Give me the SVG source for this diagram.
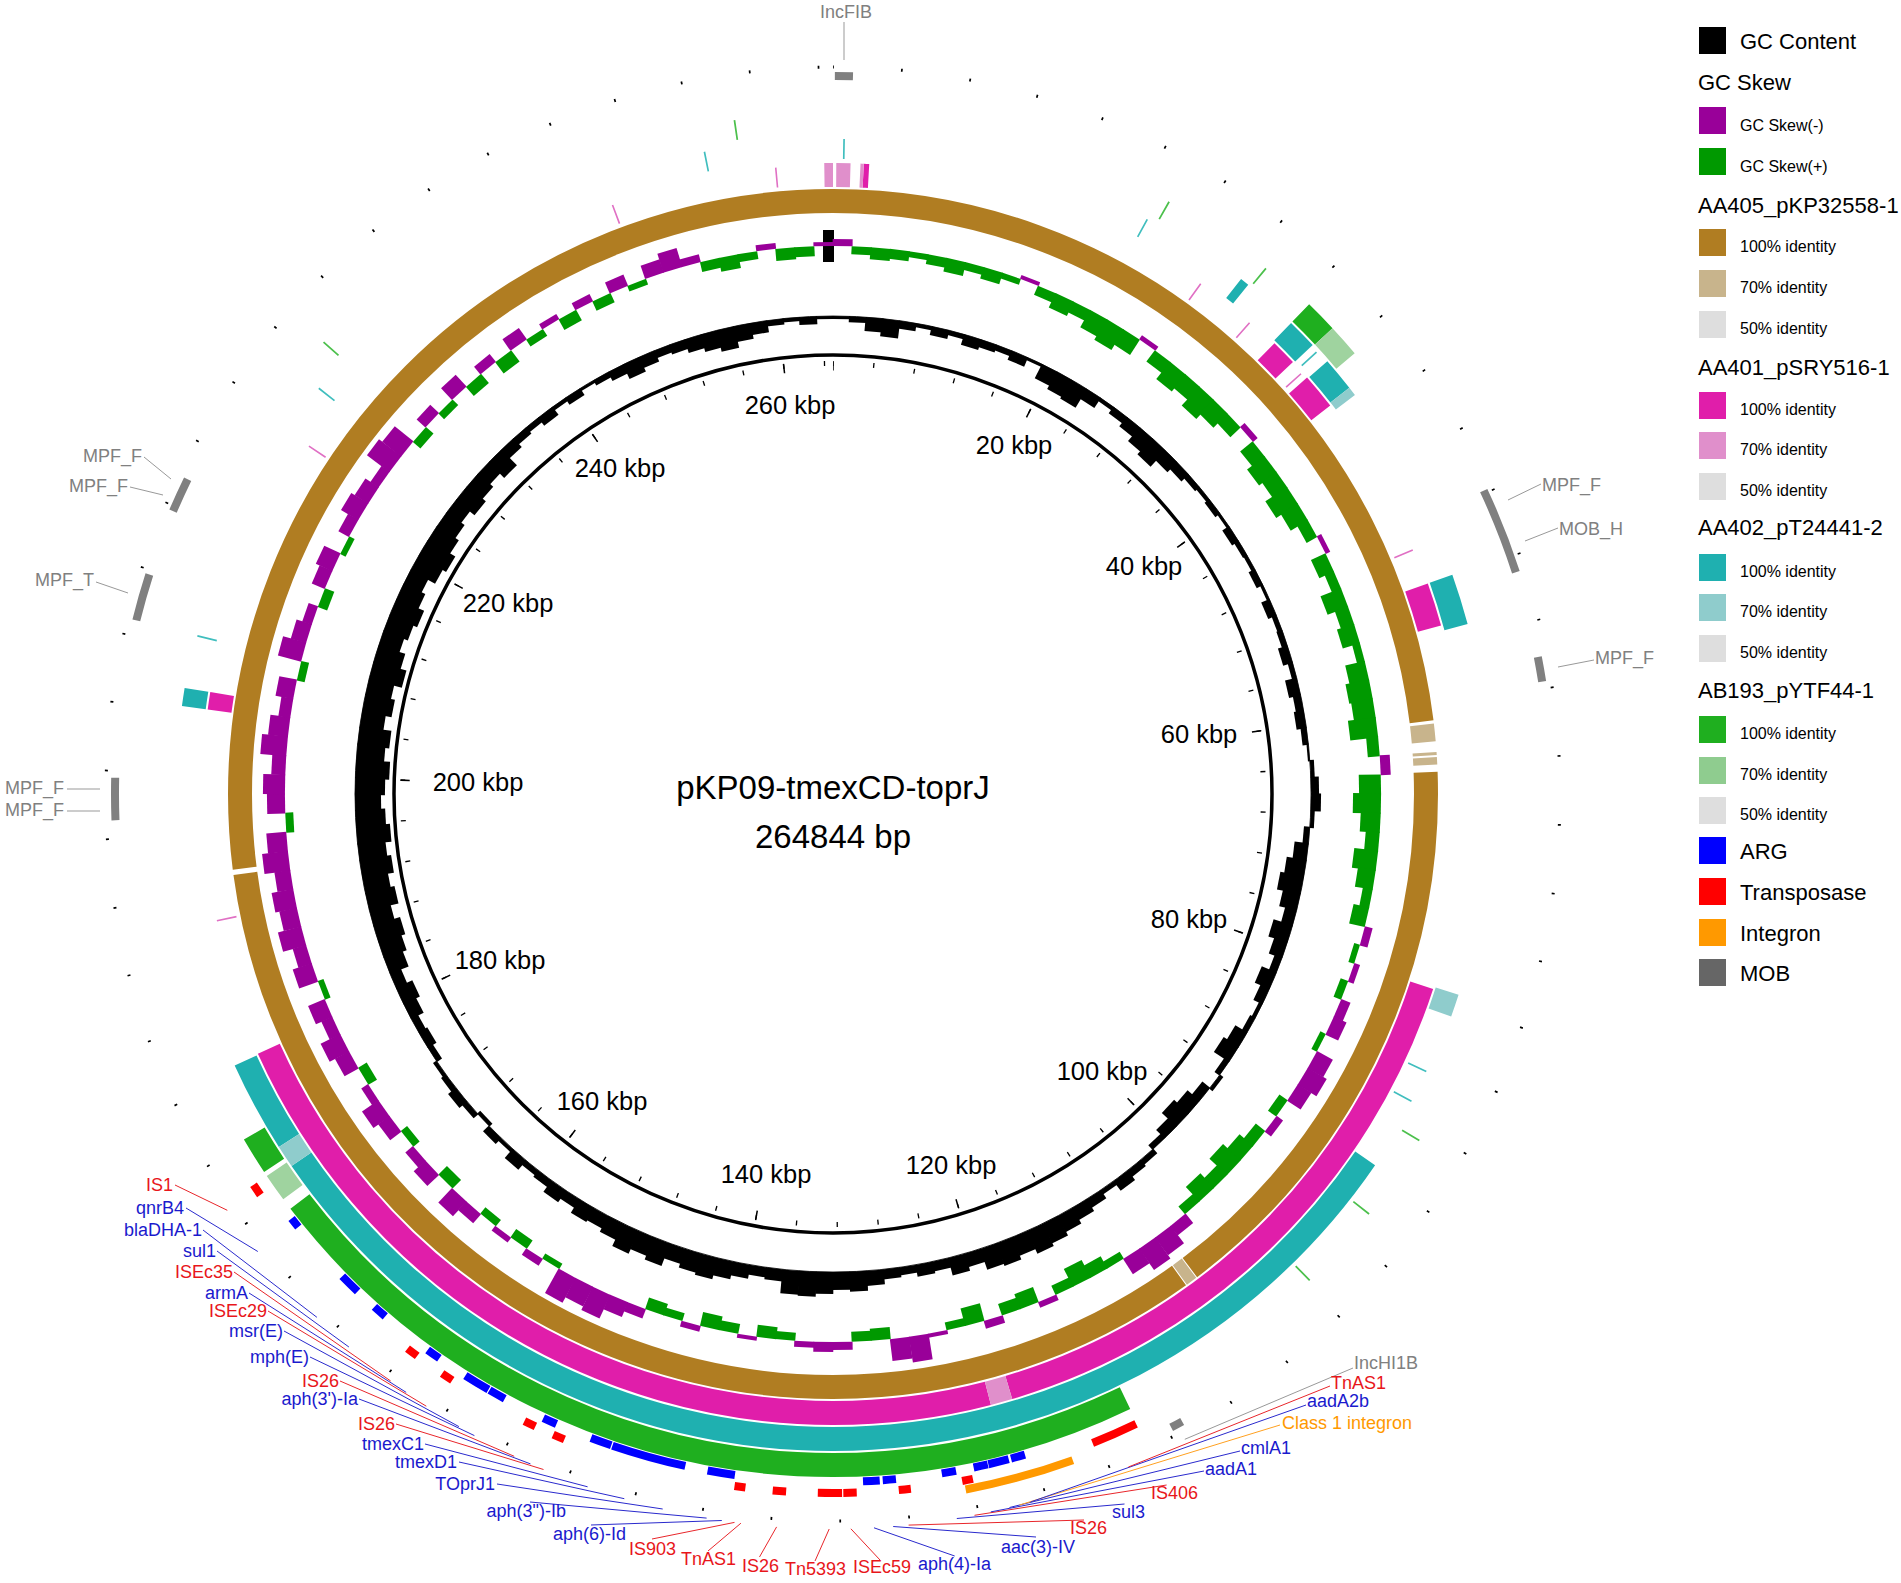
<svg xmlns="http://www.w3.org/2000/svg" width="1901" height="1583" viewBox="0 0 1901 1583">
<style>
text{font-family:"Liberation Sans",Arial,sans-serif}
.gi{x:-9px;y:-478px;width:18px}
.go{x:-9px;width:18px}
.sg{x:-10px;y:-548px;width:20px;fill:#009900}
.sp{x:-10px;width:20px;fill:#990099}
.lg{font-size:22px;fill:#000}
.ls{font-size:16px;fill:#000}
.tk{font-size:25.5px;fill:#000;text-anchor:middle}
.fl{font-size:18px}
.mb{font-size:18px;fill:#808080}
.red{fill:#E8161B}
.blue{fill:#1A1ACD}
.gray{fill:#808080}
.org{fill:#FF9900}
.lr{stroke:#E8262B;stroke-width:1}
.lb{stroke:#2A2ACD;stroke-width:1}
.lgy{stroke:#999;stroke-width:1}
.lo{stroke:#FFA020;stroke-width:1}
</style>
<rect width="1901" height="1583" fill="#fff"/>

<g id="map">
<g id="gc-content" transform="translate(833 794)" fill="#000">
<circle r="478" fill="none" stroke="#000" stroke-width="0.8"/>
<rect class="gi" height="3" transform="rotate(1)"/><rect class="gi" height="6" transform="rotate(3)"/><rect class="gi" height="14" transform="rotate(5)"/><rect class="gi" height="18" transform="rotate(7)"/><rect class="gi" height="8" transform="rotate(9)"/>
<rect class="gi" height="4" transform="rotate(11)"/><rect class="gi" height="9" transform="rotate(13)"/><rect class="gi" height="5" transform="rotate(15)"/><rect class="gi" height="11" transform="rotate(17)"/><rect class="gi" height="8" transform="rotate(19)"/>
<rect class="gi" height="6" transform="rotate(21)"/><rect class="gi" height="10" transform="rotate(23)"/><rect class="gi" height="3" transform="rotate(25)"/><rect class="gi" height="16" transform="rotate(27)"/><rect class="gi" height="20" transform="rotate(29)"/>
<rect class="gi" height="22" transform="rotate(31)"/><rect class="gi" height="12" transform="rotate(33)"/><rect class="gi" height="4" transform="rotate(35)"/><rect class="gi" height="8" transform="rotate(37)"/><rect class="gi" height="12" transform="rotate(39)"/>
<rect class="gi" height="18" transform="rotate(41)"/><rect class="gi" height="22" transform="rotate(43)"/><rect class="gi" height="14" transform="rotate(45)"/><rect class="gi" height="10" transform="rotate(47)"/><rect class="gi" height="6" transform="rotate(49)"/>
<rect class="gi" height="4" transform="rotate(51)"/><rect class="gi" height="6" transform="rotate(53)"/><rect class="gi" height="3" transform="rotate(55)"/><rect class="gi" height="8" transform="rotate(57)"/><rect class="gi" height="5" transform="rotate(59)"/>
<rect class="gi" height="4" transform="rotate(61)"/><rect class="gi" height="7" transform="rotate(63)"/><rect class="gi" height="3" transform="rotate(65)"/><rect class="gi" height="9" transform="rotate(67)"/><rect class="gi" height="5" transform="rotate(69)"/>
<rect class="gi" height="6" transform="rotate(71)"/><rect class="gi" height="10" transform="rotate(73)"/><rect class="gi" height="5" transform="rotate(75)"/><rect class="gi" height="12" transform="rotate(77)"/><rect class="gi" height="8" transform="rotate(79)"/>
<rect class="gi" height="10" transform="rotate(81)"/><rect class="gi" height="6" transform="rotate(83)"/><rect class="gi" height="2" transform="rotate(85)"/><rect class="go" y="-482" height="4" transform="rotate(87)"/><rect class="go" y="-486" height="8" transform="rotate(89)"/>
<rect class="go" y="-488" height="10" transform="rotate(91)"/><rect class="go" y="-482" height="4" transform="rotate(93)"/><rect class="gi" height="6" transform="rotate(95)"/><rect class="gi" height="14" transform="rotate(97)"/><rect class="gi" height="20" transform="rotate(99)"/>
<rect class="gi" height="24" transform="rotate(101)"/><rect class="gi" height="18" transform="rotate(103)"/><rect class="gi" height="12" transform="rotate(105)"/><rect class="gi" height="20" transform="rotate(107)"/><rect class="gi" height="14" transform="rotate(109)"/>
<rect class="gi" height="8" transform="rotate(111)"/><rect class="gi" height="16" transform="rotate(113)"/><rect class="gi" height="10" transform="rotate(115)"/><rect class="gi" height="4" transform="rotate(117)"/><rect class="gi" height="6" transform="rotate(119)"/>
<rect class="gi" height="14" transform="rotate(121)"/><rect class="gi" height="18" transform="rotate(123)"/><rect class="gi" height="6" transform="rotate(125)"/><rect class="go" y="-482" height="4" transform="rotate(127)"/><rect class="gi" height="10" transform="rotate(129)"/>
<rect class="gi" height="16" transform="rotate(131)"/><rect class="gi" height="20" transform="rotate(133)"/><rect class="gi" height="12" transform="rotate(135)"/><rect class="gi" height="6" transform="rotate(137)"/><rect class="go" y="-484" height="6" transform="rotate(139)"/>
<rect class="go" y="-486" height="8" transform="rotate(141)"/><rect class="go" y="-490" height="12" transform="rotate(143)"/><rect class="go" y="-483" height="5" transform="rotate(145)"/><rect class="go" y="-488" height="10" transform="rotate(147)"/><rect class="go" y="-492" height="14" transform="rotate(149)"/>
<rect class="go" y="-496" height="18" transform="rotate(151)"/><rect class="go" y="-500" height="22" transform="rotate(153)"/><rect class="go" y="-503" height="25" transform="rotate(155)"/><rect class="go" y="-498" height="20" transform="rotate(157)"/><rect class="go" y="-502" height="24" transform="rotate(159)"/>
<rect class="go" y="-500" height="22" transform="rotate(161)"/><rect class="go" y="-492" height="14" transform="rotate(163)"/><rect class="go" y="-496" height="18" transform="rotate(165)"/><rect class="go" y="-488" height="10" transform="rotate(167)"/><rect class="go" y="-490" height="12" transform="rotate(169)"/>
<rect class="go" y="-486" height="8" transform="rotate(171)"/><rect class="go" y="-488" height="10" transform="rotate(173)"/><rect class="go" y="-493" height="15" transform="rotate(175)"/><rect class="go" y="-498" height="20" transform="rotate(177)"/><rect class="go" y="-496" height="18" transform="rotate(179)"/>
<rect class="go" y="-500" height="22" transform="rotate(181)"/><rect class="go" y="-503" height="25" transform="rotate(183)"/><rect class="go" y="-502" height="24" transform="rotate(185)"/><rect class="go" y="-490" height="12" transform="rotate(187)"/><rect class="go" y="-488" height="10" transform="rotate(189)"/>
<rect class="go" y="-492" height="14" transform="rotate(191)"/><rect class="go" y="-496" height="18" transform="rotate(193)"/><rect class="go" y="-500" height="22" transform="rotate(195)"/><rect class="go" y="-498" height="20" transform="rotate(197)"/><rect class="go" y="-494" height="16" transform="rotate(199)"/>
<rect class="go" y="-502" height="24" transform="rotate(201)"/><rect class="go" y="-498" height="20" transform="rotate(203)"/><rect class="go" y="-503" height="25" transform="rotate(205)"/><rect class="go" y="-496" height="18" transform="rotate(207)"/><rect class="go" y="-492" height="14" transform="rotate(209)"/>
<rect class="go" y="-494" height="16" transform="rotate(211)"/><rect class="go" y="-488" height="10" transform="rotate(213)"/><rect class="go" y="-492" height="14" transform="rotate(215)"/><rect class="go" y="-486" height="8" transform="rotate(217)"/><rect class="go" y="-484" height="6" transform="rotate(219)"/>
<rect class="go" y="-490" height="12" transform="rotate(221)"/><rect class="go" y="-482" height="4" transform="rotate(223)"/><rect class="go" y="-486" height="8" transform="rotate(225)"/><rect class="gi" height="4" transform="rotate(227)"/><rect class="go" y="-484" height="6" transform="rotate(229)"/>
<rect class="go" y="-488" height="10" transform="rotate(231)"/><rect class="go" y="-484" height="6" transform="rotate(233)"/><rect class="go" y="-482" height="4" transform="rotate(235)"/><rect class="gi" height="6" transform="rotate(237)"/><rect class="gi" height="10" transform="rotate(239)"/>
<rect class="gi" height="8" transform="rotate(241)"/><rect class="gi" height="14" transform="rotate(243)"/><rect class="gi" height="18" transform="rotate(245)"/><rect class="gi" height="12" transform="rotate(247)"/><rect class="gi" height="20" transform="rotate(249)"/>
<rect class="gi" height="24" transform="rotate(251)"/><rect class="gi" height="28" transform="rotate(253)"/><rect class="gi" height="22" transform="rotate(255)"/><rect class="gi" height="30" transform="rotate(257)"/><rect class="gi" height="26" transform="rotate(259)"/>
<rect class="gi" height="32" transform="rotate(261)"/><rect class="gi" height="28" transform="rotate(263)"/><rect class="gi" height="34" transform="rotate(265)"/><rect class="gi" height="30" transform="rotate(267)"/><rect class="gi" height="26" transform="rotate(269)"/>
<rect class="gi" height="30" transform="rotate(271)"/><rect class="gi" height="34" transform="rotate(273)"/><rect class="gi" height="28" transform="rotate(275)"/><rect class="gi" height="32" transform="rotate(277)"/><rect class="gi" height="24" transform="rotate(279)"/>
<rect class="gi" height="30" transform="rotate(281)"/><rect class="gi" height="26" transform="rotate(283)"/><rect class="gi" height="34" transform="rotate(285)"/><rect class="gi" height="28" transform="rotate(287)"/><rect class="gi" height="22" transform="rotate(289)"/>
<rect class="gi" height="26" transform="rotate(291)"/><rect class="gi" height="30" transform="rotate(293)"/><rect class="gi" height="24" transform="rotate(295)"/><rect class="gi" height="20" transform="rotate(297)"/><rect class="gi" height="28" transform="rotate(299)"/>
<rect class="gi" height="32" transform="rotate(301)"/><rect class="gi" height="26" transform="rotate(303)"/><rect class="gi" height="22" transform="rotate(305)"/><rect class="gi" height="18" transform="rotate(307)"/><rect class="gi" height="24" transform="rotate(309)"/>
<rect class="gi" height="20" transform="rotate(311)"/><rect class="gi" height="16" transform="rotate(313)"/><rect class="gi" height="22" transform="rotate(315)"/><rect class="gi" height="12" transform="rotate(317)"/><rect class="gi" height="8" transform="rotate(319)"/>
<rect class="gi" height="6" transform="rotate(321)"/><rect class="gi" height="10" transform="rotate(323)"/><rect class="gi" height="4" transform="rotate(325)"/><rect class="gi" height="8" transform="rotate(327)"/><rect class="gi" height="3" transform="rotate(329)"/>
<rect class="gi" height="6" transform="rotate(331)"/><rect class="gi" height="10" transform="rotate(333)"/><rect class="gi" height="16" transform="rotate(335)"/><rect class="gi" height="12" transform="rotate(337)"/><rect class="gi" height="8" transform="rotate(339)"/>
<rect class="gi" height="10" transform="rotate(341)"/><rect class="gi" height="14" transform="rotate(343)"/><rect class="gi" height="18" transform="rotate(345)"/><rect class="gi" height="22" transform="rotate(347)"/><rect class="gi" height="16" transform="rotate(349)"/>
<rect class="gi" height="12" transform="rotate(351)"/><rect class="gi" height="6" transform="rotate(353)"/><rect class="gi" height="4" transform="rotate(355)"/><rect class="gi" height="8" transform="rotate(357)"/><rect class="gi" height="3" transform="rotate(359)"/>
</g>
<rect x="823" y="230" width="11" height="32" fill="#000"/>

<g id="gc-skew" transform="translate(833 794)">
<rect class="sp" y="-555" height="7" transform="rotate(1)"/><rect class="sg" height="8" transform="rotate(3)"/><rect class="sg" height="12" transform="rotate(5)"/><rect class="sg" height="10" transform="rotate(7)"/><rect class="sg" height="6" transform="rotate(9)"/>
<rect class="sg" height="10" transform="rotate(11)"/><rect class="sg" height="14" transform="rotate(13)"/><rect class="sg" height="8" transform="rotate(15)"/><rect class="sg" height="12" transform="rotate(17)"/><rect class="sg" height="6" transform="rotate(19)"/>
<rect class="sp" y="-552" height="4" transform="rotate(21)"/><rect class="sg" height="10" transform="rotate(23)"/><rect class="sg" height="16" transform="rotate(25)"/><rect class="sg" height="12" transform="rotate(27)"/><rect class="sg" height="20" transform="rotate(29)"/>
<rect class="sg" height="24" transform="rotate(31)"/><rect class="sg" height="18" transform="rotate(33)"/><rect class="sp" y="-553" height="5" transform="rotate(35)"/><rect class="sg" height="14" transform="rotate(37)"/><rect class="sg" height="22" transform="rotate(39)"/>
<rect class="sg" height="18" transform="rotate(41)"/><rect class="sg" height="26" transform="rotate(43)"/><rect class="sg" height="20" transform="rotate(45)"/><rect class="sg" height="14" transform="rotate(47)"/><rect class="sp" y="-554" height="6" transform="rotate(49)"/>
<rect class="sg" height="16" transform="rotate(51)"/><rect class="sg" height="22" transform="rotate(53)"/><rect class="sg" height="18" transform="rotate(55)"/><rect class="sg" height="26" transform="rotate(57)"/><rect class="sg" height="20" transform="rotate(59)"/>
<rect class="sg" height="12" transform="rotate(61)"/><rect class="sp" y="-553" height="5" transform="rotate(63)"/><rect class="sg" height="16" transform="rotate(65)"/><rect class="sg" height="10" transform="rotate(67)"/><rect class="sg" height="22" transform="rotate(69)"/>
<rect class="sg" height="14" transform="rotate(71)"/><rect class="sg" height="18" transform="rotate(73)"/><rect class="sg" height="8" transform="rotate(75)"/><rect class="sg" height="20" transform="rotate(77)"/><rect class="sg" height="24" transform="rotate(79)"/>
<rect class="sg" height="22" transform="rotate(81)"/><rect class="sg" height="28" transform="rotate(83)"/><rect class="sg" height="12" transform="rotate(85)"/><rect class="sp" y="-558" height="10" transform="rotate(87)"/><rect class="sg" height="22" transform="rotate(89)"/>
<rect class="sg" height="28" transform="rotate(91)"/><rect class="sg" height="20" transform="rotate(93)"/><rect class="sg" height="14" transform="rotate(95)"/><rect class="sg" height="24" transform="rotate(97)"/><rect class="sg" height="18" transform="rotate(99)"/>
<rect class="sg" height="10" transform="rotate(101)"/><rect class="sg" height="16" transform="rotate(103)"/><rect class="sp" y="-556" height="8" transform="rotate(105)"/><rect class="sg" height="6" transform="rotate(107)"/><rect class="sp" y="-554" height="6" transform="rotate(109)"/>
<rect class="sg" height="8" transform="rotate(111)"/><rect class="sp" y="-558" height="10" transform="rotate(113)"/><rect class="sp" y="-562" height="14" transform="rotate(115)"/><rect class="sg" height="6" transform="rotate(117)"/><rect class="sp" y="-566" height="18" transform="rotate(119)"/>
<rect class="sp" y="-570" height="22" transform="rotate(121)"/><rect class="sp" y="-564" height="16" transform="rotate(123)"/><rect class="sg" height="10" transform="rotate(125)"/><rect class="sp" y="-556" height="8" transform="rotate(127)"/><rect class="sg" height="12" transform="rotate(129)"/>
<rect class="sg" height="18" transform="rotate(131)"/><rect class="sg" height="24" transform="rotate(133)"/><rect class="sg" height="14" transform="rotate(135)"/><rect class="sg" height="20" transform="rotate(137)"/><rect class="sg" height="10" transform="rotate(139)"/>
<rect class="sp" y="-560" height="12" transform="rotate(141)"/><rect class="sp" y="-570" height="22" transform="rotate(143)"/><rect class="sp" y="-574" height="26" transform="rotate(145)"/><rect class="sp" y="-566" height="18" transform="rotate(147)"/><rect class="sg" height="8" transform="rotate(149)"/>
<rect class="sg" height="14" transform="rotate(151)"/><rect class="sg" height="20" transform="rotate(153)"/><rect class="sg" height="10" transform="rotate(155)"/><rect class="sp" y="-554" height="6" transform="rotate(157)"/><rect class="sg" height="16" transform="rotate(159)"/>
<rect class="sg" height="12" transform="rotate(161)"/><rect class="sp" y="-556" height="8" transform="rotate(163)"/><rect class="sg" height="18" transform="rotate(165)"/><rect class="sg" height="8" transform="rotate(167)"/><rect class="sp" y="-552" height="4" transform="rotate(169)"/>
<rect class="sp" y="-574" height="26" transform="rotate(171)"/><rect class="sp" y="-570" height="22" transform="rotate(173)"/><rect class="sg" height="12" transform="rotate(175)"/><rect class="sg" height="10" transform="rotate(177)"/><rect class="sp" y="-556" height="8" transform="rotate(179)"/>
<rect class="sp" y="-558" height="10" transform="rotate(181)"/><rect class="sp" y="-554" height="6" transform="rotate(183)"/><rect class="sg" height="8" transform="rotate(185)"/><rect class="sg" height="12" transform="rotate(187)"/><rect class="sp" y="-552" height="4" transform="rotate(189)"/>
<rect class="sg" height="10" transform="rotate(191)"/><rect class="sg" height="14" transform="rotate(193)"/><rect class="sp" y="-554" height="6" transform="rotate(195)"/><rect class="sg" height="8" transform="rotate(197)"/><rect class="sg" height="12" transform="rotate(199)"/>
<rect class="sp" y="-558" height="10" transform="rotate(201)"/><rect class="sp" y="-564" height="16" transform="rotate(203)"/><rect class="sp" y="-574" height="26" transform="rotate(205)"/><rect class="sp" y="-570" height="22" transform="rotate(207)"/><rect class="sp" y="-576" height="28" transform="rotate(209)"/>
<rect class="sg" height="6" transform="rotate(211)"/><rect class="sp" y="-556" height="8" transform="rotate(213)"/><rect class="sg" height="10" transform="rotate(215)"/><rect class="sp" y="-554" height="6" transform="rotate(217)"/><rect class="sg" height="8" transform="rotate(219)"/>
<rect class="sp" y="-560" height="12" transform="rotate(221)"/><rect class="sp" y="-568" height="20" transform="rotate(223)"/><rect class="sg" height="12" transform="rotate(225)"/><rect class="sp" y="-564" height="16" transform="rotate(227)"/><rect class="sp" y="-558" height="10" transform="rotate(229)"/>
<rect class="sg" height="8" transform="rotate(231)"/><rect class="sp" y="-562" height="14" transform="rotate(233)"/><rect class="sp" y="-568" height="20" transform="rotate(235)"/><rect class="sp" y="-556" height="8" transform="rotate(237)"/><rect class="sg" height="10" transform="rotate(239)"/>
<rect class="sp" y="-564" height="16" transform="rotate(241)"/><rect class="sp" y="-570" height="22" transform="rotate(243)"/><rect class="sp" y="-560" height="12" transform="rotate(245)"/><rect class="sp" y="-566" height="18" transform="rotate(247)"/><rect class="sg" height="6" transform="rotate(249)"/>
<rect class="sp" y="-568" height="20" transform="rotate(251)"/><rect class="sp" y="-562" height="14" transform="rotate(253)"/><rect class="sp" y="-572" height="24" transform="rotate(255)"/><rect class="sp" y="-566" height="18" transform="rotate(257)"/><rect class="sp" y="-570" height="22" transform="rotate(259)"/>
<rect class="sp" y="-564" height="16" transform="rotate(261)"/><rect class="sp" y="-574" height="26" transform="rotate(263)"/><rect class="sp" y="-568" height="20" transform="rotate(265)"/><rect class="sg" height="8" transform="rotate(267)"/><rect class="sp" y="-566" height="18" transform="rotate(269)"/>
<rect class="sp" y="-570" height="22" transform="rotate(271)"/><rect class="sp" y="-562" height="14" transform="rotate(273)"/><rect class="sp" y="-574" height="26" transform="rotate(275)"/><rect class="sp" y="-568" height="20" transform="rotate(277)"/><rect class="sp" y="-560" height="12" transform="rotate(279)"/>
<rect class="sp" y="-566" height="18" transform="rotate(281)"/><rect class="sg" height="8" transform="rotate(283)"/><rect class="sp" y="-572" height="24" transform="rotate(285)"/><rect class="sp" y="-564" height="16" transform="rotate(287)"/><rect class="sp" y="-558" height="10" transform="rotate(289)"/>
<rect class="sg" height="10" transform="rotate(291)"/><rect class="sp" y="-562" height="14" transform="rotate(293)"/><rect class="sp" y="-566" height="18" transform="rotate(295)"/><rect class="sg" height="6" transform="rotate(297)"/><rect class="sp" y="-560" height="12" transform="rotate(299)"/>
<rect class="sp" y="-568" height="20" transform="rotate(301)"/><rect class="sp" y="-564" height="16" transform="rotate(303)"/><rect class="sp" y="-558" height="10" transform="rotate(305)"/><rect class="sp" y="-576" height="28" transform="rotate(307)"/><rect class="sp" y="-572" height="24" transform="rotate(309)"/>
<rect class="sg" height="10" transform="rotate(311)"/><rect class="sp" y="-560" height="12" transform="rotate(313)"/><rect class="sg" height="8" transform="rotate(315)"/><rect class="sp" y="-564" height="16" transform="rotate(317)"/><rect class="sg" height="12" transform="rotate(319)"/>
<rect class="sp" y="-558" height="10" transform="rotate(321)"/><rect class="sg" height="14" transform="rotate(323)"/><rect class="sp" y="-562" height="14" transform="rotate(325)"/><rect class="sg" height="8" transform="rotate(327)"/><rect class="sp" y="-554" height="6" transform="rotate(329)"/>
<rect class="sg" height="12" transform="rotate(331)"/><rect class="sp" y="-556" height="8" transform="rotate(333)"/><rect class="sg" height="10" transform="rotate(335)"/><rect class="sp" y="-560" height="12" transform="rotate(337)"/><rect class="sg" height="6" transform="rotate(339)"/>
<rect class="sp" y="-562" height="14" transform="rotate(341)"/><rect class="sp" y="-568" height="20" transform="rotate(343)"/><rect class="sp" y="-556" height="8" transform="rotate(345)"/><rect class="sg" height="10" transform="rotate(347)"/><rect class="sg" height="14" transform="rotate(349)"/>
<rect class="sg" height="8" transform="rotate(351)"/><rect class="sp" y="-554" height="6" transform="rotate(353)"/><rect class="sg" height="12" transform="rotate(355)"/><rect class="sg" height="10" transform="rotate(357)"/><rect class="sp" y="-552" height="4" transform="rotate(359)"/>
</g>

<g id="rings" transform="translate(833 794) rotate(-90)" fill="none">
<circle r="439" stroke="#000" stroke-width="3.5"/>
<circle r="430.5" stroke="#000" stroke-width="5" pathLength="264844" stroke-dasharray="130 3870" stroke-dashoffset="65"/>
<circle r="428" stroke="#000" stroke-width="9" pathLength="264844" stroke-dasharray="150 19850" stroke-dashoffset="75"/>
<g id="ring-AA405">
<circle r="593" stroke="#B07D22" stroke-width="24" pathLength="360" stroke-dasharray="83 4.9 55.1 1.3 118 0.5 97.2 10"/>
<circle r="593" stroke="#C8B48C" stroke-width="24" pathLength="360" stroke-dasharray="0 83.3 1.7 1 0.3 0.2 0.7 55.9 1.1 300"/>
</g>
<g id="ring-AA401">
<circle r="619" stroke="#E01EAA" stroke-width="24" pathLength="360" stroke-dasharray="0 2.8 0.5 41.1 2.4 1.9 3.3 18.5 4 33.5 55.5 2 80.2 32 1.6 100"/>
<circle r="619" stroke="#E08FCB" stroke-width="24" pathLength="360" stroke-dasharray="0 0.3 1.3 0.9 0.3 160.7 2 193.7 0.8 10"/>
<circle r="619" stroke="#E070C4" stroke-width="20" pathLength="360" stroke-dasharray="0 35.7 .15 5.55 .15 6.45 .15 18.95 .15 191.05 .15 45.05 .15 35.75 .15 15.15 .15 10"/>
</g>
<g id="ring-AA402">
<circle r="645" stroke="#1FB0B0" stroke-width="24" pathLength="360" stroke-dasharray="0 38.4 .8 5 2.7 1.9 3 18.7 4.5 49.4 111.1 2 8.1 32.1 1.6 100"/>
<circle r="645" stroke="#8FCCCC" stroke-width="24" pathLength="360" stroke-dasharray="0 51.8 .8 55.2 2 125.7 2 200"/>
<circle r="645" stroke="#40BEBE" stroke-width="20" pathLength="360" stroke-dasharray="0 .9 .15 27.55 .15 18.75 .15 67.35 .15 2.75 .15 165.85 .15 24.15 .15 40.25 .15 20"/>
</g>
<g id="ring-AB193">
<circle r="671" stroke="#1FAF1F" stroke-width="24" pathLength="360" stroke-dasharray="0 44.2 2.8 107.2 78.4 3.8 3.2 150"/>
<circle r="671" stroke="#9FD39F" stroke-width="24" pathLength="360" stroke-dasharray="0 47 2.8 183.8 2.4 150"/>
<circle r="671" stroke="#4CC04C" stroke-width="20" pathLength="360" stroke-dasharray="0 29.5 .15 9.75 .15 80.95 .15 7.35 .15 7.35 .15 175.85 .15 39.95 .15 10"/>
</g>
<circle id="ring-ARG" r="688" stroke="#0000FF" stroke-width="8" pathLength="360" stroke-dasharray="0 163.8 1.2 .2 1.75 .05 1.2 1.5 1.2 3.85 1.1 .25 1.4 10.7 2.3 1.9 6.3 .1 1.8 3.1 1.2 3.6 1.45 .1 2.25 2.6 1.2 4.5 1.2 1.9 1.8 5.5 .9 130"/>
<circle id="ring-transposase" r="699" stroke="#FF0000" stroke-width="8" pathLength="360" stroke-dasharray="0 154.3 3.9 10.25 .9 4.25 1 3.45 1.1 .1 2 2.6 1.1 2.25 .9 14.5 1 1.6 1 6.8 1 2.5 1 17.5 1 130"/>
<circle id="ring-integron" r="708" stroke="#FF9900" stroke-width="8" pathLength="360" stroke-dasharray="0 160.2 9 200"/>
<circle id="ring-MOB" r="718" stroke="#808080" stroke-width="8" pathLength="360" stroke-dasharray="0 .15 1.45 63.4 7 7 2 69.9 1 116 3.4 12.7 3.8 5.4 2.8 70"/>
<circle id="ring-dots" r="727" stroke="#000" stroke-width="3" pathLength="264844" stroke-dasharray="100 3900" stroke-dashoffset="50"/>
</g>

<g id="tick-labels">
<text class="tk" x="790" y="414">260 kbp</text>
<text class="tk" x="1014" y="454">20 kbp</text>
<text class="tk" x="1144" y="575">40 kbp</text>
<text class="tk" x="1199" y="743">60 kbp</text>
<text class="tk" x="1189" y="928">80 kbp</text>
<text class="tk" x="1102" y="1080">100 kbp</text>
<text class="tk" x="951" y="1174">120 kbp</text>
<text class="tk" x="766" y="1183">140 kbp</text>
<text class="tk" x="602" y="1110">160 kbp</text>
<text class="tk" x="500" y="969">180 kbp</text>
<text class="tk" x="478" y="791">200 kbp</text>
<text class="tk" x="508" y="612">220 kbp</text>
<text class="tk" x="620" y="477">240 kbp</text>
</g>

<g id="title">
<text x="833" y="799" font-size="33" text-anchor="middle" fill="#000">pKP09-tmexCD-toprJ</text>
<text x="833" y="848" font-size="33" text-anchor="middle" fill="#000">264844 bp</text>
</g>
</g>

<g id="connectors" fill="none">
<line class="lgy" x1="844" y1="22" x2="844" y2="60"/>
<line class="lgy" x1="144" y1="457" x2="171" y2="479"/>
<line class="lgy" x1="130" y1="487" x2="163" y2="495"/>
<line class="lgy" x1="96" y1="582" x2="128" y2="593"/>
<line class="lgy" x1="67" y1="789" x2="100" y2="789"/>
<line class="lgy" x1="67" y1="811" x2="100" y2="811"/>
<line class="lgy" x1="1541" y1="484" x2="1508" y2="500"/>
<line class="lgy" x1="1558" y1="528" x2="1525" y2="541"/>
<line class="lgy" x1="1594" y1="660" x2="1558" y2="667"/>
<line class="lr" x1="175" y1="1185" x2="227.3" y2="1210.3"/>
<line class="lb" x1="186" y1="1208" x2="257.8" y2="1251.5"/>
<line class="lb" x1="203" y1="1230" x2="316.9" y2="1317.3"/>
<line class="lb" x1="217" y1="1251" x2="348.9" y2="1347"/>
<line class="lr" x1="234" y1="1272" x2="390.7" y2="1381"/>
<line class="lb" x1="249" y1="1293" x2="406.2" y2="1392.4"/>
<line class="lr" x1="268" y1="1311" x2="426.3" y2="1406.2"/>
<line class="lb" x1="284" y1="1331" x2="458.9" y2="1426.6"/>
<line class="lb" x1="310" y1="1357" x2="474.4" y2="1435.6"/>
<line class="lr" x1="340" y1="1381" x2="514.2" y2="1456.3"/>
<line class="lb" x1="359" y1="1399" x2="530.5" y2="1463.9"/>
<line class="lr" x1="396" y1="1424" x2="543.5" y2="1469.5"/>
<line class="lb" x1="425" y1="1444" x2="587.6" y2="1486.8"/>
<line class="lb" x1="459" y1="1462" x2="624.3" y2="1498.7"/>
<line class="lb" x1="497" y1="1484" x2="662.7" y2="1509"/>
<line class="lb" x1="530" y1="1502" x2="706.6" y2="1518.1"/>
<line class="lb" x1="591" y1="1525" x2="721.8" y2="1520.5"/>
<line class="lr" x1="652" y1="1539" x2="734.5" y2="1522.4"/>
<line class="lr" x1="708" y1="1551" x2="740.9" y2="1523.2"/>
<line class="lr" x1="759.5" y1="1557" x2="776.6" y2="1526.9"/>
<line class="lr" x1="815" y1="1561" x2="829.2" y2="1529"/>
<line class="lr" x1="880" y1="1560" x2="850.9" y2="1528.8"/>
<line class="lb" x1="954.7" y1="1556" x2="874" y2="1527.8"/>
<line class="lb" x1="1036" y1="1537" x2="893.2" y2="1526.5"/>
<line class="lr" x1="1084" y1="1520" x2="908.6" y2="1525.1"/>
<line class="lb" x1="1124.5" y1="1504" x2="956.8" y2="1518.5"/>
<line class="lr" x1="1166.6" y1="1485" x2="974.5" y2="1515.3"/>
<line class="lb" x1="1204" y1="1471" x2="990.8" y2="1511.9"/>
<line class="lb" x1="1240" y1="1451" x2="1009.5" y2="1507.5"/>
<line class="lo" x1="1280" y1="1425" x2="1019.5" y2="1505"/>
<line class="lb" x1="1306" y1="1405" x2="1030.6" y2="1502"/>
<line class="lr" x1="1330" y1="1386" x2="1128.4" y2="1467"/>
<line class="lgy" x1="1353" y1="1368" x2="1184.8" y2="1439.3"/>
</g>

<g id="feature-labels">
<text class="mb" x="846" y="18" text-anchor="middle">IncFIB</text>
<text class="mb" x="142" y="462" text-anchor="end">MPF_F</text>
<text class="mb" x="128" y="492" text-anchor="end">MPF_F</text>
<text class="mb" x="94" y="586" text-anchor="end">MPF_T</text>
<text class="mb" x="64" y="794" text-anchor="end">MPF_F</text>
<text class="mb" x="64" y="816" text-anchor="end">MPF_F</text>
<text class="mb" x="1542" y="491">MPF_F</text>
<text class="mb" x="1559" y="535">MOB_H</text>
<text class="mb" x="1595" y="664">MPF_F</text>
<g text-anchor="end">
<text class="fl red" x="173" y="1191">IS1</text>
<text class="fl blue" x="184" y="1214">qnrB4</text>
<text class="fl blue" x="202" y="1236">blaDHA-1</text>
<text class="fl blue" x="216" y="1257">sul1</text>
<text class="fl red" x="233" y="1278">ISEc35</text>
<text class="fl blue" x="248" y="1299">armA</text>
<text class="fl red" x="267" y="1317">ISEc29</text>
<text class="fl blue" x="283" y="1337">msr(E)</text>
<text class="fl blue" x="309" y="1363">mph(E)</text>
<text class="fl red" x="339" y="1387">IS26</text>
<text class="fl blue" x="358" y="1405">aph(3')-Ia</text>
<text class="fl red" x="395" y="1430">IS26</text>
<text class="fl blue" x="424" y="1450">tmexC1</text>
<text class="fl blue" x="457" y="1468">tmexD1</text>
<text class="fl blue" x="495" y="1490">TOprJ1</text>
<text class="fl blue" x="566" y="1517">aph(3")-Ib</text>
<text class="fl blue" x="626" y="1540">aph(6)-Id</text>
</g>
<text class="fl red" x="629" y="1555">IS903</text>
<text class="fl red" x="681" y="1565">TnAS1</text>
<text class="fl red" x="742" y="1572">IS26</text>
<text class="fl red" x="785" y="1575">Tn5393</text>
<text class="fl red" x="853" y="1573">ISEc59</text>
<text class="fl blue" x="918" y="1570">aph(4)-Ia</text>
<text class="fl blue" x="1001" y="1553">aac(3)-IV</text>
<text class="fl red" x="1070" y="1534">IS26</text>
<text class="fl blue" x="1112" y="1518">sul3</text>
<text class="fl red" x="1151" y="1499">IS406</text>
<text class="fl blue" x="1205" y="1475">aadA1</text>
<text class="fl blue" x="1241" y="1454">cmlA1</text>
<text class="fl org" x="1282" y="1429">Class 1 integron</text>
<text class="fl blue" x="1307" y="1407">aadA2b</text>
<text class="fl red" x="1331" y="1389">TnAS1</text>
<text class="fl gray" x="1354" y="1369">IncHI1B</text>
</g>

<g id="legend">
<g id="lg-gc"><rect x="1699" y="27" width="27" height="27" fill="#000"/><text class="lg" x="1740" y="49">GC Content</text></g>
<text class="lg" x="1698" y="90">GC Skew</text>
<g id="lg-skn"><rect x="1699" y="107" width="27" height="27" fill="#990099"/><text class="ls" x="1740" y="131">GC Skew(-)</text></g>
<g id="lg-skp"><rect x="1699" y="148" width="27" height="27" fill="#009900"/><text class="ls" x="1740" y="172">GC Skew(+)</text></g>
<text class="lg" x="1698" y="213">AA405_pKP32558-1</text>
<g id="lg-a405"><rect x="1699" y="229" width="27" height="27" fill="#B07D22"/><text class="ls" x="1740" y="252">100% identity</text>
<rect x="1699" y="270" width="27" height="27" fill="#C8B48C"/><text class="ls" x="1740" y="293">70% identity</text>
<rect x="1699" y="311" width="27" height="27" fill="#DEDEDE"/><text class="ls" x="1740" y="334">50% identity</text></g>
<text class="lg" x="1698" y="375">AA401_pSRY516-1</text>
<g id="lg-a401"><rect x="1699" y="392" width="27" height="27" fill="#E01EAA"/><text class="ls" x="1740" y="415">100% identity</text>
<rect x="1699" y="432" width="27" height="27" fill="#E08FCB"/><text class="ls" x="1740" y="455">70% identity</text>
<rect x="1699" y="473" width="27" height="27" fill="#DEDEDE"/><text class="ls" x="1740" y="496">50% identity</text></g>
<text class="lg" x="1698" y="535">AA402_pT24441-2</text>
<g id="lg-a402"><rect x="1699" y="554" width="27" height="27" fill="#1FB0B0"/><text class="ls" x="1740" y="577">100% identity</text>
<rect x="1699" y="594" width="27" height="27" fill="#8FCCCC"/><text class="ls" x="1740" y="617">70% identity</text>
<rect x="1699" y="635" width="27" height="27" fill="#DEDEDE"/><text class="ls" x="1740" y="658">50% identity</text></g>
<text class="lg" x="1698" y="698">AB193_pYTF44-1</text>
<g id="lg-b193"><rect x="1699" y="716" width="27" height="27" fill="#1FAF1F"/><text class="ls" x="1740" y="739">100% identity</text>
<rect x="1699" y="757" width="27" height="27" fill="#8FCC8F"/><text class="ls" x="1740" y="780">70% identity</text>
<rect x="1699" y="797" width="27" height="27" fill="#DEDEDE"/><text class="ls" x="1740" y="820">50% identity</text></g>
<g id="lg-arg"><rect x="1699" y="837" width="27" height="27" fill="#0000FF"/><text class="lg" x="1740" y="859">ARG</text></g>
<g id="lg-tr"><rect x="1699" y="878" width="27" height="27" fill="#FF0000"/><text class="lg" x="1740" y="900">Transposase</text></g>
<g id="lg-int"><rect x="1699" y="919" width="27" height="27" fill="#FF9900"/><text class="lg" x="1740" y="941">Integron</text></g>
<g id="lg-mob"><rect x="1699" y="959" width="27" height="27" fill="#666666"/><text class="lg" x="1740" y="981">MOB</text></g>
</g>
</svg>
